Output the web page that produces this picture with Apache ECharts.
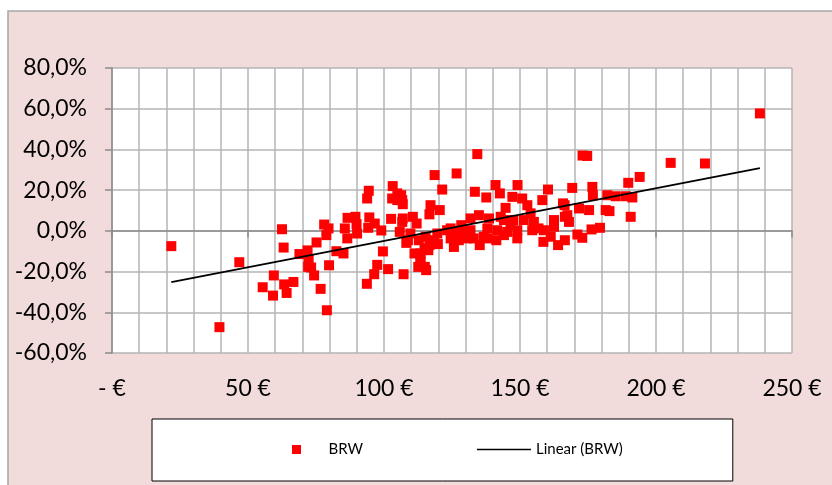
<!DOCTYPE html>
<html>
<head>
<meta charset="utf-8">
<script src="https://cdn.jsdelivr.net/npm/echarts@6/dist/echarts.min.js"></script>
<style>
  html, body { margin: 0; padding: 0; background: #fff; }
  #chart { width: 832px; height: 485px; }
</style>
</head>
<body>
<div id="chart"></div>
<script>
// Scatter points: [price in €, return in %]
const points = [
  [21.8,-7.5],[39.5,-47.3],[46.8,-15.4],[55.4,-27.7],[59.5,-21.9],[59.2,-31.8],[62.5,0.8],[63.1,-8.2],
  [63.3,-26.3],[64.2,-30.5],[66.7,-25.1],[68.9,-11.4],[71.9,-9.6],[75.2,-5.7],[72.3,-13.8],[72.1,-17.7],
  [73.2,-18.0],[74.3,-21.9],[76.7,-28.5],[79.0,-39.0],[79.8,-16.9],[78.0,3.1],[79.6,1.2],[78.8,-2.1],
  [82.5,-10.0],[85.1,-11.1],[85.6,1.2],[86.6,6.4],[89.5,6.9],[89.9,3.3],[86.5,-3.7],[90.1,-1.3],
  [93.7,-26.0],[94.4,19.7],[93.8,15.9],[94.6,6.6],[94.2,1.5],[96.6,3.6],[99.0,0.2],[99.6,-10.1],
  [97.5,-16.7],[96.4,-21.3],[101.5,-18.8],[102.6,5.9],[103.2,22.0],[103.0,15.9],[104.9,18.4],[104.9,15.1],
  [106.3,17.5],[106.7,15.1],[106.9,13.1],[105.8,-0.5],[106.9,6.1],[108.2,-5.9],[108.8,-4.6],[107.2,-21.3],
  [110.6,6.9],[112.0,3.6],[111.2,-11.1],[112.6,-17.7],[113.4,-13.1],[115.0,-17.7],[115.5,-19.3],[114.9,-8.6],
  [116.3,-9.5],[116.7,-7.0],[117.1,12.6],[116.7,8.1],[120.5,10.2],[118.6,27.4],[121.4,20.3],[115.3,-2.9],
  [119.6,-1.3],[118.3,-4.6],[119.8,-6.5],[124.5,1.2],[126.3,-0.5],[124.5,-3.7],[125.7,-7.9],[126.7,28.2],
  [128.4,2.8],[129.4,-1.3],[127.5,-4.6],[134.3,37.7],[133.4,19.2],[131.8,6.1],[134.9,7.7],[131.8,0.3],
  [133.0,-3.7],[135.2,-7.0],[137.6,16.4],[138.6,6.1],[138.0,1.2],[136.7,-2.9],[141.0,22.5],[142.6,18.4],
  [142.9,6.9],[144.7,11.3],[141.6,0.3],[141.3,-4.6],[144.1,-2.1],[147.2,16.7],[149.1,22.5],[146.5,2.8],
  [149.0,0.3],[149.0,-3.7],[150.8,15.9],[152.7,12.6],[151.4,5.3],[153.9,8.6],[155.1,4.4],[154.5,0.3],
  [158.2,15.1],[160.3,20.3],[158.8,0.3],[158.6,-5.4],[161.3,-2.9],[164.0,-7.0],[162.5,5.3],[165.8,13.5],
  [166.5,6.9],[169.2,21.1],[173.0,37.0],[174.7,36.8],[176.6,21.6],[176.8,17.5],[171.7,11.0],[175.4,10.2],
  [167.4,7.7],[168.0,4.4],[176.3,0.7],[171.1,-1.8],[172.9,-3.4],[166.5,-4.6],[179.4,1.5],[181.5,10.2],
  [182.9,9.7],[182.1,17.5],[185.2,17.0],[188.9,17.0],[189.8,23.6],[190.7,6.9],[191.3,16.4],[194.0,26.5],
  [205.4,33.4],[218.0,33.1],[238.2,57.7],[166.4,12.6],
  [109.7,-1.3],[113.4,-15.2],[123.2,0.3],[130.6,-3.7],[145.3,-0.5],[138.0,-3.7],[162.5,2.0],[144.1,5.3],
  [147.5,5.3],[156.8,1.2],[106.7,4.4],[112.8,-4.6],[113.4,-11.1]
];
// Linear trend line end points
const trendX = [21.8, 238.2];
const trendY = [-25.2, 30.8];
// Axis settings
const xMin = 0, xMax = 250, xGridStep = 10, xLabelStep = 50;
const yMin = -60, yMax = 80, yStep = 20;
const seriesNames = ['BRW', 'Linear (BRW)'];

const chart = echarts.init(document.getElementById('chart'), null, { renderer: 'canvas' });
const FONT = 'Lato';
const trendData = trendX.map((x, i) => [x, trendY[i]]);

chart.setOption({
  animation: false,
  backgroundColor: '#ffffff',
  graphic: [{
    type: 'rect', z: -10, silent: true,
    shape: { x: 8, y: 11, width: 840, height: 490 },
    style: { fill: '#f2dcdb', stroke: '#a6a6a6', lineWidth: 1.5 }
  }],
  grid: {
    left: 112, top: 68, width: 680, height: 285,
    show: true, backgroundColor: '#ffffff', borderWidth: 0, containLabel: false
  },
  xAxis: [{
    type: 'value', min: xMin, max: xMax, interval: xGridStep,
    axisLine: { show: false, onZero: false },
    axisTick: { show: false },
    splitLine: { show: true, lineStyle: { color: '#b5b5b5', width: 1.5 } },
    axisLabel: {
      margin: 24, color: '#000', fontFamily: FONT, fontSize: 23,
      formatter: v => (v % xLabelStep === 0) ? (v === 0 ? '- €' : v + ' €') : ''
    }
  }, {
    type: 'value', min: xMin, max: xMax, interval: xLabelStep, position: 'bottom',
    axisLine: { show: true, onZero: true, onZeroAxisIndex: 0, lineStyle: { color: '#8c8c8c', width: 1.5 } },
    axisTick: { show: true, length: 7, lineStyle: { color: '#8c8c8c', width: 1.5 } },
    axisLabel: { show: false },
    splitLine: { show: false }
  }],
  yAxis: {
    type: 'value', min: yMin, max: yMax, interval: yStep,
    axisLine: { show: true, onZero: false, lineStyle: { color: '#8c8c8c', width: 1.5 } },
    axisTick: { show: true, length: 7, lineStyle: { color: '#8c8c8c', width: 1.5 } },
    splitLine: { show: true, lineStyle: { color: '#b5b5b5', width: 1.5 } },
    axisLabel: {
      margin: 25, color: '#000', fontFamily: FONT, fontSize: 23,
      formatter: v => v.toFixed(1).replace('.', ',') + '%'
    }
  },
  legend: {
    left: 152, top: 419,
    padding: [23, 110, 24, 140],
    itemWidth: 54, itemHeight: 9, itemGap: 114,
    symbolKeepAspect: true,
    backgroundColor: '#ffffff', borderColor: '#000000', borderWidth: 1,
    textStyle: { fontFamily: FONT, fontSize: 15, color: '#000' },
    data: [
      { name: seriesNames[0], icon: 'path://M0,0H10V10H0Z' },
      { name: seriesNames[1], icon: 'path://M0,0H54V1.6H0Z' }
    ]
  },
  series: [{
    name: seriesNames[0], type: 'scatter', xAxisIndex: 0,
    symbol: 'rect', symbolSize: 10,
    itemStyle: { color: '#ff0000', opacity: 1 },
    data: points
  }, {
    name: seriesNames[1], type: 'line', xAxisIndex: 0,
    showSymbol: false, symbol: 'none',
    itemStyle: { color: '#000000' },
    lineStyle: { color: '#000000', width: 1.8 },
    data: trendData
  }]
});
</script>
</body>
</html>
